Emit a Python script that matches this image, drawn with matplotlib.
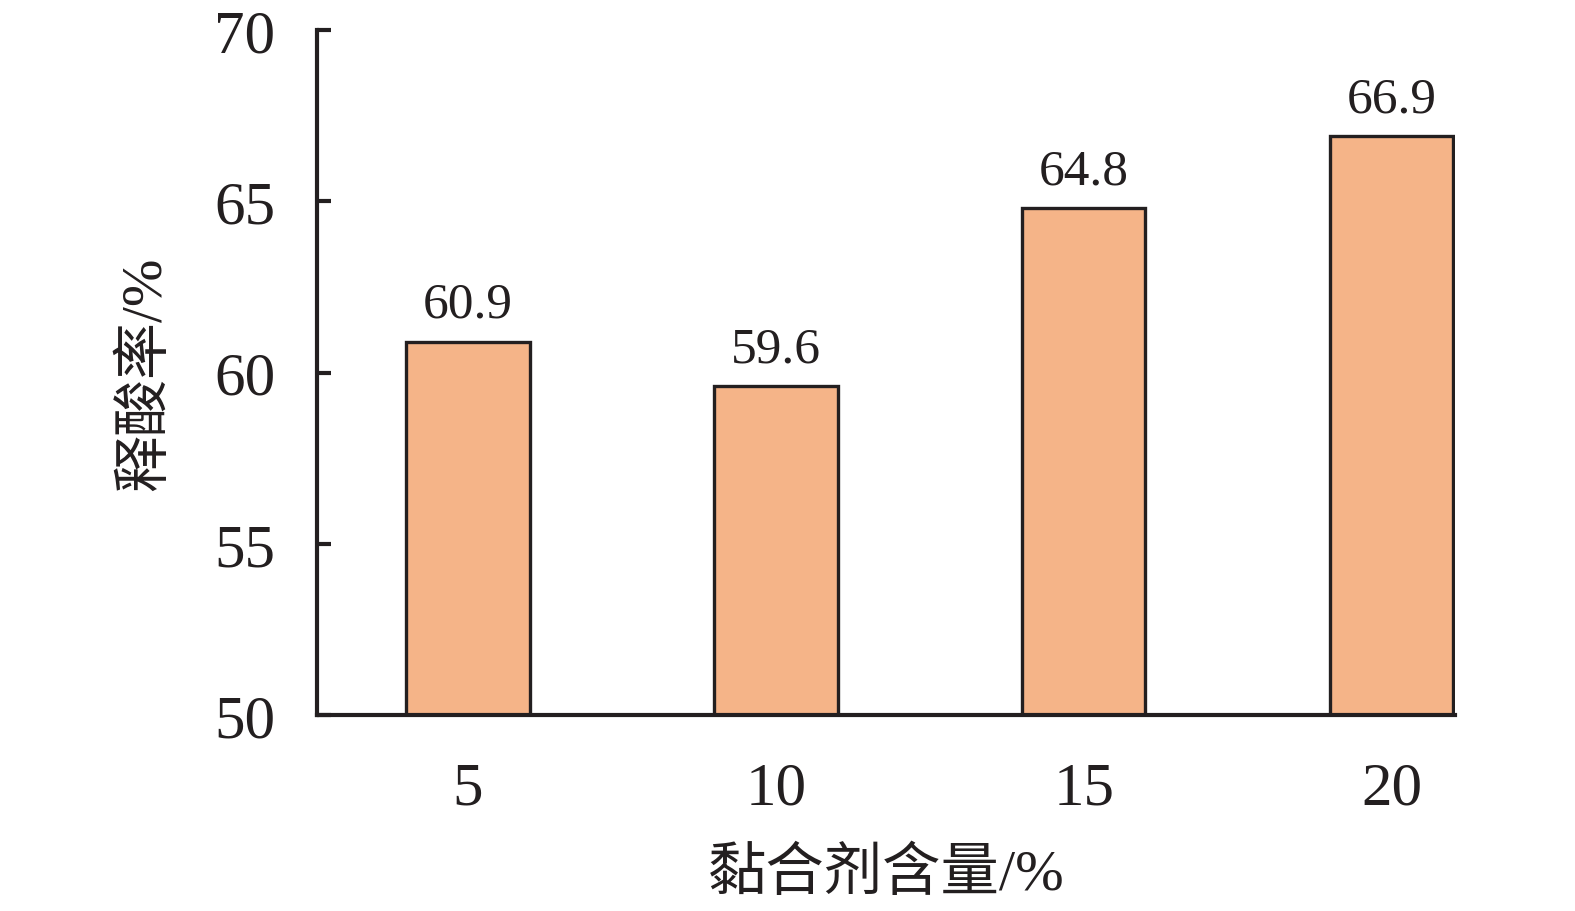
import matplotlib.pyplot as plt
import numpy as np

# data
categories = ['5', '10', '15', '20']
values = [60.9, 59.6, 64.8, 66.9]

plt.rcParams['font.family'] = ['Liberation Serif', 'Noto Sans CJK SC']

fig = plt.figure(figsize=(15.75, 9.12), dpi=100)
ax = fig.add_axes([0.2013, 0.2149, 0.7225, 0.7511])

x = np.arange(len(categories))
ax.bar(x, [v - 50 for v in values], bottom=50, width=0.4,
       color='#F5B488', edgecolor='#231f20', linewidth=2.4, zorder=2)

for xi, v in zip(x, values):
    ax.text(xi, v + 0.4, f'{v:.1f}', ha='center', va='bottom',
            fontsize=37, color='#231f20')

ax.set_xlim(-0.49, 3.205)
ax.set_ylim(50, 70)
ax.set_yticks([50, 55, 60, 65, 70])
ax.set_xticks(x)
ax.set_xticklabels(categories)

for s in ['top', 'right']:
    ax.spines[s].set_visible(False)
for s in ['left', 'bottom']:
    ax.spines[s].set_linewidth(3)
    ax.spines[s].set_color('#231f20')
    ax.spines[s].set_zorder(3)

ax.tick_params(axis='y', direction='in', length=10, width=3, labelsize=44,
               pad=30, color='#231f20', labelcolor='#231f20')
ax.tick_params(axis='x', direction='in', length=9, width=3, labelsize=44,
               pad=33, color='#231f20', labelcolor='#231f20')

ax.set_xlabel('黏合剂含量/%', fontsize=42, color='#231f20', labelpad=22)
ax.set_ylabel('释酸率/%', fontsize=41, color='#231f20', labelpad=30)

plt.savefig('out.png', dpi=100)
